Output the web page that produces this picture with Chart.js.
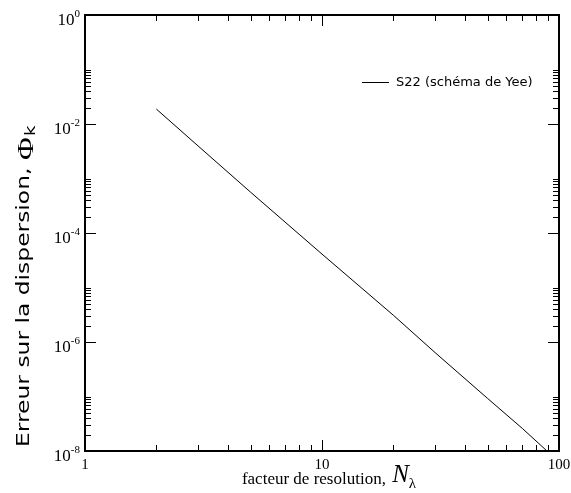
<!DOCTYPE html>
<html>
<head>
<meta charset="utf-8">
<script src="https://cdn.jsdelivr.net/npm/chart.js@4/dist/chart.umd.min.js"></script>
<style>
  body { margin: 0; background: #fff; }
</style>
</head>
<body>
<canvas id="grafico" width="571" height="493"></canvas>
<script>
// valeurs
const resolution = [2, 3, 5, 10, 20, 30, 50, 70, 89];
const erreur = [1.88e-2, 3.96e-3, 5.6e-4, 4.1e-5, 3.1e-6, 6.4e-7, 9.2e-8, 2.6e-8, 1.0e-8];
const serieLabel = "S22 (schéma de Yee)";

// graduations
const xMajor = [1, 10, 100];
const xMajorLabels = ["1", "10", "100"];
const xMinor = [2, 3, 4, 5, 6, 7, 8, 9, 20, 30, 40, 50, 60, 70, 80, 90];
const yMajor = [1, 1e-2, 1e-4, 1e-6, 1e-8];
const yMajorExp = ["0", "-2", "-4", "-6", "-8"];
const yMinor = [
    2e-2, 3e-2, 4e-2, 5e-2, 6e-2, 7e-2, 8e-2, 9e-2, 1e-1,
    2e-4, 3e-4, 4e-4, 5e-4, 6e-4, 7e-4, 8e-4, 9e-4, 1e-3,
    2e-6, 3e-6, 4e-6, 5e-6, 6e-6, 7e-6, 8e-6, 9e-6, 1e-5,
    2e-8, 3e-8, 4e-8, 5e-8, 6e-8, 7e-8, 8e-8, 9e-8, 1e-7
];

const serif = '"Liberation Serif", "Times New Roman", serif';
const sans = '"DejaVu Sans", sans-serif';

// cadre, graduations vers l'intérieur, textes
const cadrePlugin = {
    id: "cadre",
    afterDatasetsDraw(chart) {
        const ctx = chart.ctx;
        const a = chart.chartArea;
        const xs = chart.scales.x;
        const ys = chart.scales.y;
        ctx.save();
        ctx.strokeStyle = "#000";
        ctx.fillStyle = "#000";

        // ticks
        ctx.lineWidth = 1;
        function tickX(v, len) {
            const px = Math.round(xs.getPixelForValue(v)) + 0.5;
            ctx.beginPath();
            ctx.moveTo(px, a.bottom); ctx.lineTo(px, a.bottom - len);
            ctx.moveTo(px, a.top); ctx.lineTo(px, a.top + len);
            ctx.stroke();
        }
        function tickY(v, len) {
            const py = Math.round(ys.getPixelForValue(v)) + 0.5;
            ctx.beginPath();
            ctx.moveTo(a.left, py); ctx.lineTo(a.left + len, py);
            ctx.moveTo(a.right, py); ctx.lineTo(a.right - len, py);
            ctx.stroke();
        }
        xMinor.forEach(v => tickX(v, 6));
        xMajor.forEach(v => tickX(v, 11));
        yMinor.forEach(v => tickY(v, 6));
        yMajor.forEach(v => tickY(v, 11));

        // cadre
        ctx.lineWidth = 2;
        ctx.strokeRect(a.left, a.top, a.right - a.left, a.bottom - a.top);

        // étiquettes x
        ctx.font = "15px " + serif;
        ctx.textAlign = "center";
        ctx.textBaseline = "alphabetic";
        xMajor.forEach((v, i) => {
            ctx.fillText(xMajorLabels[i], xs.getPixelForValue(v), 469);
        });

        // étiquettes y : 10 puissance n
        ctx.textAlign = "left";
        yMajor.forEach((v, i) => {
            const py = ys.getPixelForValue(v);
            ctx.font = "11px " + serif;
            const wSup = ctx.measureText(yMajorExp[i]).width;
            ctx.font = "17px " + serif;
            const wBase = ctx.measureText("10").width;
            const x0 = 80 - wSup - wBase;
            ctx.fillText("10", x0, py + 9.5);
            ctx.font = "11px " + serif;
            ctx.fillText(yMajorExp[i], x0 + wBase, py + 2);
        });

        // titre x
        ctx.font = "17px " + serif;
        const t1 = "facteur de resolution, ";
        const w1 = ctx.measureText(t1).width;
        ctx.font = "italic 25px " + serif;
        const wN = ctx.measureText("N").width;
        ctx.font = "15px " + serif;
        const wL = ctx.measureText("λ").width;
        let x = 329 - (w1 + wN + wL + 2) / 2;
        ctx.font = "17px " + serif;
        ctx.fillText(t1, x, 484);
        x += w1 + 2;
        ctx.font = "italic 25px " + serif;
        ctx.fillText("N", x, 482);
        x += wN;
        ctx.font = "15px " + serif;
        ctx.fillText("λ", x, 488);

        // titre y
        ctx.save();
        ctx.translate(29, 447);
        ctx.rotate(-Math.PI / 2);
        ctx.scale(1.3, 1);
        ctx.font = "18px " + sans;
        const ty = "Erreur sur la dispersion, ";
        ctx.fillText(ty, 0, 0);
        let yx = ctx.measureText(ty).width;
        ctx.font = "24px " + serif;
        ctx.fillText("Φ", yx, 4);
        yx += ctx.measureText("Φ").width + 1;
        ctx.font = "14px " + sans;
        ctx.fillText("k", yx, 6);
        ctx.restore();

        // légende
        ctx.lineWidth = 1;
        ctx.beginPath();
        ctx.moveTo(362, 82.5); ctx.lineTo(389, 82.5);
        ctx.stroke();
        ctx.font = "13px " + sans;
        ctx.textBaseline = "middle";
        ctx.fillText(chart.data.datasets[0].label, 396, 83);

        ctx.restore();
    }
};

new Chart(document.getElementById("grafico").getContext("2d"), {
    type: "scatter",
    data: {
        datasets: [{
            label: serieLabel,
            data: resolution.map((n, i) => ({ x: n, y: erreur[i] })),
            showLine: true,
            borderColor: "#000",
            borderWidth: 1,
            pointRadius: 0,
            fill: false
        }]
    },
    options: {
        responsive: false,
        animation: false,
        layout: { padding: { top: 15, right: 12, left: 0, bottom: 0 } },
        plugins: {
            legend: { display: false },
            tooltip: { enabled: false }
        },
        scales: {
            x: {
                type: "logarithmic",
                min: 1,
                max: 100,
                ticks: { display: false },
                grid: { display: false },
                border: { display: false },
                afterFit: s => { s.height = 42; }
            },
            y: {
                type: "logarithmic",
                min: 1e-8,
                max: 1,
                ticks: { display: false },
                grid: { display: false },
                border: { display: false },
                afterFit: s => { s.width = 85; }
            }
        }
    },
    plugins: [cadrePlugin]
});
</script>
</body>
</html>
